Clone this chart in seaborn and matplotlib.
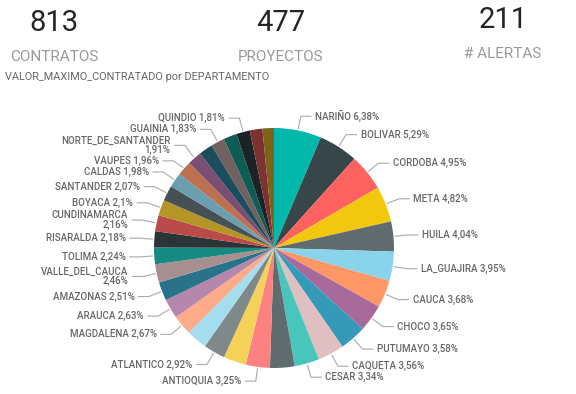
import numpy as np
import matplotlib
matplotlib.use('Agg')
import matplotlib.pyplot as plt
import seaborn as sns

departamentos = ['NARIÑO', 'BOLIVAR', 'CORDOBA', 'META', 'HUILA', 'LA_GUAJIRA',
                 'CAUCA', 'CHOCO', 'PUTUMAYO', 'CAQUETA', 'CESAR', 'SUCRE',
                 'ANTIOQUIA', 'CASANARE', 'ATLANTICO', 'BOGOTA', 'MAGDALENA',
                 'ARAUCA', 'AMAZONAS', 'VALLE_DEL_CAUCA', 'TOLIMA', 'RISARALDA',
                 'CUNDINAMARCA', 'BOYACA', 'SANTANDER', 'CALDAS', 'VAUPES',
                 'NORTE_DE_SANTANDER', 'GUAVIARE', 'GUAINIA', 'VICHADA',
                 'QUINDIO', 'SAN_ANDRES', 'NACIONAL']
porcentajes = [6.38, 5.29, 4.95, 4.82, 4.04, 3.95,
               3.68, 3.65, 3.58, 3.56, 3.34, 3.30,
               3.25, 3.05, 2.92, 2.80, 2.67,
               2.63, 2.51, 2.46, 2.24, 2.18,
               2.16, 2.10, 2.07, 1.98, 1.96,
               1.91, 1.87, 1.83, 1.82,
               1.81, 1.70, 1.54]
# slices Power BI left without a data label
sin_etiqueta = ['SUCRE', 'CASANARE', 'BOGOTA', 'GUAVIARE', 'VICHADA',
                'SAN_ANDRES', 'NACIONAL']

kpi_valores = ['813', '477', '211']
kpi_nombres = ['CONTRATOS', 'PROYECTOS', '# ALERTAS']

# default Power BI theme colours, in order
colores_pbi = ['#01B8AA', '#374649', '#FD625E', '#F2C80F', '#5F6B6D', '#8AD4EB',
               '#FE9666', '#A66999', '#3599B8', '#DFBFBF', '#4AC5BB', '#5F6B6D',
               '#FB8281', '#F4D25A', '#7F898A', '#A4DDEE', '#FDAB89', '#B687AC',
               '#28738A', '#A78F8F', '#168980', '#293537', '#BB4A4A', '#B59525',
               '#475052', '#6A9FB0', '#BD7150', '#7B4F71', '#1B4D5C', '#706060',
               '#0F5C55', '#1C2325', '#7D3231', '#796419']

sns.set_theme(style='white')
plt.rcParams['font.family'] = ['Roboto', 'DejaVu Sans']

W, H = 576, 394
fig = plt.figure(figsize=(W / 100, H / 100), dpi=100)
fig.patch.set_facecolor('white')

# --- KPI cards ---
kpi_x = [54, 281, 503]
kpi_y = [23, 23, 20]
for val, nom, x, y in zip(kpi_valores, kpi_nombres, kpi_x, kpi_y):
    fig.text(x / W, 1 - y / H, val, ha='center', va='center',
             fontsize=21, color='#252423')
    fig.text(x / W, 1 - (y + 34) / H, nom, ha='center', va='center',
             fontsize=11, color='#999999')

fig.text(5 / W, 1 - 77 / H, 'VALOR_MAXIMO_CONTRATADO por DEPARTAMENTO',
         ha='left', va='center', fontsize=7.8, color='#666666')

# --- pie ---
R_PX = 120
cx, cy = 274, 248
ax = fig.add_axes([0, 0, 1, 1])
wedges, _ = ax.pie(porcentajes, colors=sns.color_palette(colores_pbi),
                   startangle=90, counterclock=False, radius=1,
                   wedgeprops=dict(linewidth=0))
ax.set_xlim(-cx / R_PX, (W - cx) / R_PX)
ax.set_ylim(-(H - cy) / R_PX, cy / R_PX)
ax.axis('off')

# collect labels per side
lado = {'der': [], 'izq': []}
for w, nombre, val in zip(wedges, departamentos, porcentajes):
    if nombre in sin_etiqueta:
        continue
    a = np.deg2rad((w.theta1 + w.theta2) / 2)
    pct = f'{val:g}%'.replace('.', ',')
    sep = '\n' if len(nombre) >= 12 else ' '
    item = dict(a=a, txt=nombre + sep + pct, y=1.12 * np.sin(a),
                h=(18 if sep == '\n' else 9) / R_PX)
    lado['der' if np.cos(a) >= 0 else 'izq'].append(item)

# push overlapping labels apart
pad = 2 / R_PX
for items in lado.values():
    items.sort(key=lambda d: -d['y'])
    for _ in range(200):
        moved = False
        for p, q in zip(items[:-1], items[1:]):
            need = (p['h'] + q['h']) / 2 + pad
            gap = p['y'] - q['y']
            if gap < need - 1e-6:
                d = (need - gap) / 2
                p['y'] += d
                q['y'] -= d
                moved = True
        if not moved:
            break

for nombre_lado, items in lado.items():
    s = 1 if nombre_lado == 'der' else -1
    for it in items:
        a = it['a']
        x0, y0 = 1.01 * np.cos(a), 1.01 * np.sin(a)
        xe, ye = 1.12 * np.cos(a), it['y']
        xh = xe + s * 0.09
        ax.plot([x0, xe, xh], [y0, ye, ye], color='#ABABAB', lw=0.8,
                solid_capstyle='butt')
        ax.text(xh + s * 0.03, ye, it['txt'], ha='left' if s > 0 else 'right',
                va='center', fontsize=7, color='#666666', fontweight='medium',
                linespacing=0.95,
                multialignment='right' if s < 0 else 'left')

fig.savefig('out.png', dpi=100, facecolor='white')
